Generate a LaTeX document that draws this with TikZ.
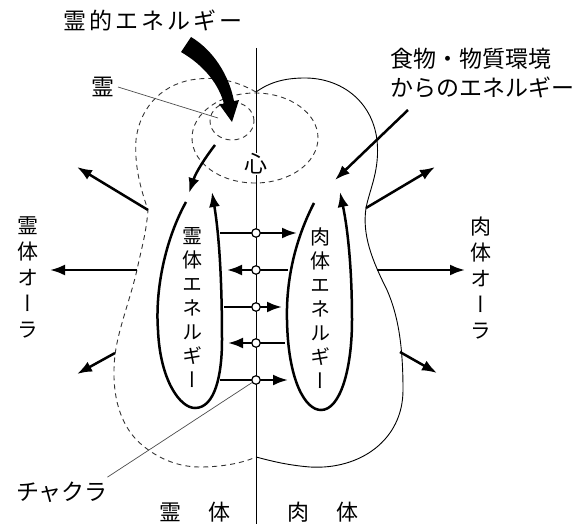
\documentclass[tikz,border=0pt]{standalone}
\usepackage{fontspec}
\usepackage{tikz}
\usetikzlibrary{arrows.meta,positioning}
\newfontfamily\jp{Noto Sans CJK JP}
\newfontfamily\jpv[RawFeature=+vert]{Noto Sans CJK JP}
\tikzset{
    aura/.style={line width=2.5pt,-{Latex[length=15pt,width=11pt]}},
    flow/.style={line width=2.5pt,-{Latex[length=15pt,width=11pt]}},
    lobe/.style={line width=2.5pt},
    dashline/.style={dash pattern=on 5pt off 4pt,line width=0.9pt,black!80},
    leader/.style={black!70,line width=0.7pt},
    chakra/.style={circle,draw,fill=white,line width=1.2pt,inner sep=0pt,minimum size=8.5pt},
    vtext/.style={align=center,font=\jpv\fontsize{20}{24}\selectfont},
    jtext/.style={font=\jp\fontsize{23}{29}\selectfont}
}
\begin{document}
\begin{tikzpicture}[x=1pt,y=-1pt]
            \useasboundingbox (0,0) rectangle (586,524);
            % outlines
            \draw[dashline] (256,92) .. controls (235,80) and (215,77) .. (198,79)
                .. controls (165,82) and (140,105) .. (136,140)
                .. controls (134,170) and (143,195) .. (148,210)
                .. controls (146,235) and (141,250) .. (137,270)
                .. controls (130,300) and (118,330) .. (115,355)
                .. controls (111,390) and (118,425) .. (142,445)
                .. controls (160,460) and (180,467) .. (200,467)
                .. controls (225,467) and (245,462) .. (256,457);
            \draw[line width=0.9pt] (256,92) .. controls (270,82) and (285,78) .. (305,78)
                .. controls (340,78) and (372,100) .. (377,140)
                .. controls (380,170) and (370,188) .. (366,208)
                .. controls (362,235) and (372,260) .. (387,290)
                .. controls (398,315) and (403,345) .. (403,390)
                .. controls (403,440) and (360,470) .. (310,467)
                .. controls (285,465) and (268,460) .. (256,457);
            \draw[dashline] (255,138) ellipse [x radius=63pt,y radius=45pt];
            \draw[dashline] (232,121) ellipse [x radius=22pt,y radius=19pt];
            \draw[line width=0.9pt] (256,48) -- (256,524);
            % energy lobes
            \draw[lobe,-{Latex[length=15pt,width=11pt]}] (186,202) .. controls (165,240) and (155,290) .. (158,330)
                .. controls (160,380) and (180,408) .. (195,408)
                .. controls (215,408) and (222,375) .. (222,340)
                .. controls (222,290) and (220,240) .. (212,192);
            \draw[lobe,-{Latex[length=15pt,width=11pt]}] (314,203) .. controls (295,240) and (286,280) .. (287,320)
                .. controls (288,380) and (305,410) .. (321,410)
                .. controls (340,410) and (352,370) .. (352,320)
                .. controls (352,270) and (348,230) .. (340,192);
            \foreach \y/\a/\b [count=\i] in {233/220/297,270/288/227,307/224/282,343/285/228,380/220/288} {
                \coordinate (s\i) at (\a,\y);
                \coordinate (e\i) at (\b,\y);
                \draw[flow] (s\i) -- (e\i);
                \node[chakra] (c\i) at (256,\y) {};
            }
            % aura arrows
            \coordinate (la1) at (148,210); \coordinate (lb1) at (77,167);
            \coordinate (la2) at (137,270); \coordinate (lb2) at (50,270);
            \coordinate (la3) at (115,353); \coordinate (lb3) at (77,374);
            \coordinate (ra1) at (366,208); \coordinate (rb1) at (435,167);
            \coordinate (ra2) at (377,270); \coordinate (rb2) at (465,270);
            \coordinate (ra3) at (400,352); \coordinate (rb3) at (437,373);
            \foreach \s in {l,r} {
                \foreach \i in {1,2,3} \draw[aura] (\s a\i) -- (\s b\i);
            }
            % spirit energy
            \fill (181,52) .. controls (205,66) and (219,85) .. (224,104) -- (219,104) -- (232,122)
                -- (239,100) -- (234,101) .. controls (229,75) and (213,50) .. (191,37) -- cycle;
            \coordinate (sp1) at (215,145);
            \coordinate (sp2) at (189,193);
            \draw[flow] (sp1) .. controls (205,158) and (196,172) .. (sp2);
            \coordinate (fd1) at (408,110);
            \coordinate (fd2) at (335,180);
            \draw[flow] (fd1) -- (fd2);
            % labels
            \node[jtext] (title) at (153,20) {霊\kern3pt 的\kern3pt エ\kern3pt ネ\kern3pt ル\kern3pt ギ\kern3pt ー};
            \node[jtext] (rei) at (103,87) {霊};
            \coordinate (reipt) at (218,118);
            \draw[leader] (rei.east) -- (reipt);
            \node[jtext,fill=white,inner sep=1pt] (kokoro) at (256,164) {心};
            \node[jtext,align=left,anchor=west] (food) at (387,73) {食物・物質環境\\からのエネルギー};
            \node[vtext,font=\jpv\fontsize{21}{26}\selectfont] (raura) at (28,277) {霊\\体\\オ\\ー\\ラ};
            \node[vtext,font=\jpv\fontsize{21}{26}\selectfont] (naura) at (481,278) {肉\\体\\オ\\ー\\ラ};
            \node[vtext] (rene) at (192,308) {霊\\体\\エ\\ネ\\ル\\ギ\\ー};
            \node[vtext] (nene) at (320,308) {肉\\体\\エ\\ネ\\ル\\ギ\\ー};
            \node[jtext] (chak) at (62,492) {チャクラ};
            \draw[leader] (chak.north east) ++(-4,-1) coordinate (chk) (chk) -- (c5);
            \node[jtext,font=\jp\fontsize{22}{26}\selectfont] (lbody) at (195,512) {霊\hspace{27pt}体};
            \node[jtext,font=\jp\fontsize{22}{26}\selectfont] (rbody) at (323,512) {肉\hspace{27pt}体};
\end{tikzpicture}
\end{document}
